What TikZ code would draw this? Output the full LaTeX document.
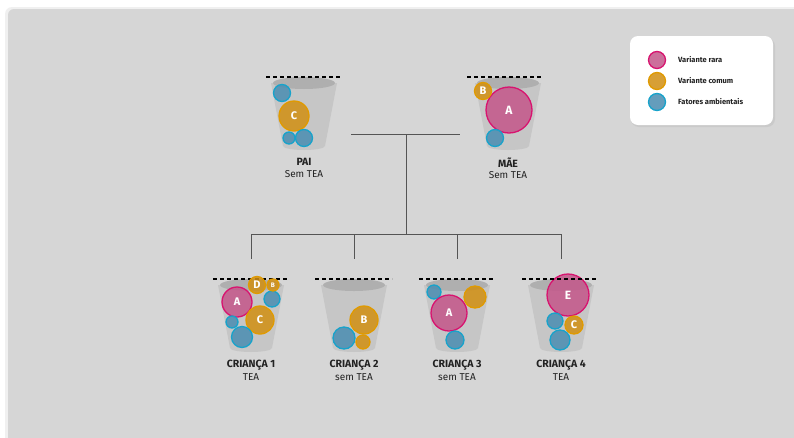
\documentclass[tikz,border=0pt]{standalone}
\usepackage{fontspec}
\setmainfont{Fira Sans}
\usetikzlibrary{calc}

\definecolor{panel}{HTML}{D6D6D6}
\definecolor{bodygrey}{HTML}{C6C6C6}
\definecolor{topgrey}{HTML}{AFAFAF}
\definecolor{rarefill}{HTML}{C4568A}
\definecolor{raredraw}{HTML}{D8136F}
\definecolor{comfill}{HTML}{D18F12}
\definecolor{comdraw}{HTML}{E09A00}
\definecolor{envfill}{HTML}{4A8DB1}
\definecolor{envdraw}{HTML}{17A3CB}
\definecolor{ink}{HTML}{222222}
\definecolor{linegrey}{HTML}{555555}

\tikzset{
  blob/.style={circle, inner sep=0pt, line width=1.3pt, fill opacity=0.85,
    text opacity=1, text=white, font=\bfseries\fontsize{11}{11}\selectfont},
  rare/.style={blob, draw=raredraw, fill=rarefill},
  common/.style={blob, draw=comdraw, fill=comfill},
  env/.style={blob, draw=envdraw, fill=envfill},
  who/.style={text=ink, font=\bfseries\fontsize{10.5}{10.5}\selectfont, inner sep=0pt},
  status/.style={text=ink, font=\fontsize{10}{10}\selectfont, inner sep=0pt},
  limit/.style={dashed, dash pattern=on 4pt off 3pt, line width=1.2pt, black},
  tree/.style={draw=linegrey, line width=0.8pt},
  keytext/.style={text=ink, font=\bfseries\fontsize{7.5}{7.5}\selectfont, inner sep=0pt, anchor=west},
}

% bucket: centre x, top y
\newcommand\drawbucket[2]{%
  \fill[bodygrey] (#1-33,#2) -- (#1-21,#2+63)
     arc[start angle=180, end angle=0, x radius=21, y radius=4] -- (#1+33,#2) -- cycle;
  \fill[topgrey] (#1,#2) ellipse[x radius=31, y radius=6];
}

\begin{document}
\begin{tikzpicture}[x=1pt,y=-1pt]
\useasboundingbox (0,0) rectangle (794,437);
\fill[white] (0,0) rectangle (794,437);
\begin{scope}
  \clip (0,0) rectangle (794,437);
  \fill[black!6] (5,7) [rounded corners=7pt] rectangle (820,460);
  \fill[panel] (8,9) [rounded corners=6pt] rectangle (820,460);
\end{scope}

% legend card
\fill[black!25, opacity=0.5, rounded corners=8pt] (631,38) rectangle (775,127);
\node[fill=white, rounded corners=8pt, minimum width=143pt, minimum height=89pt, inner sep=0pt]
  (legend) at (701.5,80.5) {};
\node[rare, minimum size=17pt] (krare) at (657,60) {};
\node[common, minimum size=17pt] (kcom) at (657,81) {};
\node[env, minimum size=17pt] (kenv) at (657,102) {};
\node[keytext] (lrare) at (678,60) {Variante rara};
\node[keytext] (lcom) at (678,81) {Variante comum};
\node[keytext] (lenv) at (678,102) {Fatores ambientais};

% ---------- parents ----------
\drawbucket{304}{83}
\draw[limit] (266,77) -- (341,77);
\node[env, minimum size=17pt] (p1) at (282,93) {};
\node[common, minimum size=30pt] (pC) at (294,116) {C};
\node[env, minimum size=12pt] (p2) at (289,138) {};
\node[env, minimum size=17pt] (p3) at (304,138) {};
\node[who] (pai) at (304,162) {PAI};
\node[status] (paist) at (304,174) {Sem TEA};

\drawbucket{508}{83}
\draw[limit] (467,77) -- (543,77);
\node[rare, minimum size=46pt, font=\bfseries\fontsize{12}{12}\selectfont] (mA) at (509,110) {A};
\node[common, minimum size=17pt] (mB) at (483,91) {B};
\node[env, minimum size=17pt] (m1) at (495,138) {};
\node[who] (mae) at (508,163) {MÃE};
\node[status] (maest) at (508,175) {Sem TEA};

% ---------- family tree lines ----------
\coordinate (jL) at (351,134);
\coordinate (jR) at (460,134);
\coordinate (jM) at (406,134);
\coordinate (jB) at (406,234);
\coordinate (b1) at (251,234);
\coordinate (b2) at (354,234);
\coordinate (b3) at (457,234);
\coordinate (b4) at (561,234);
\coordinate (d1) at (251,259);
\coordinate (d2) at (354,259);
\coordinate (d3) at (457,259);
\coordinate (d4) at (561,259);
\draw[tree] (jL) -- (jR);
\draw[tree] (jM) -- (jB);
\draw[tree] (b1) -- (b4);
\draw[tree] (b1) -- (d1);
\draw[tree] (b2) -- (d2);
\draw[tree] (b3) -- (d3);
\draw[tree] (b4) -- (d4);

% ---------- child 1 ----------
\drawbucket{251}{285}
\draw[limit] (213,279) -- (289,279);
\node[rare, minimum size=30pt] (c1A) at (237,302) {A};
\node[env, minimum size=16pt] (c1e1) at (272,299) {};
\node[common, minimum size=28pt] (c1C) at (260,320) {C};
\node[env, minimum size=12pt] (c1e2) at (232,322) {};
\node[env, minimum size=21pt] (c1e3) at (242,337) {};
\node[common, minimum size=17pt] (c1D) at (257,285) {D};
\node[common, minimum size=12pt, font=\bfseries\fontsize{6.5}{6.5}\selectfont] (c1B) at (273,285) {B};
\node[who] (k1) at (251,365) {CRIANÇA 1};
\node[status] (k1st) at (251,377) {TEA};

% ---------- child 2 ----------
\drawbucket{354}{285}
\draw[limit] (315,279) -- (392,279);
\node[common, minimum size=28pt] (c2B) at (364,320) {B};
\node[env, minimum size=22pt] (c2e) at (344,338) {};
\node[common, minimum size=14pt] (c2s) at (363,342) {};
\node[who] (k2) at (354,365) {CRIANÇA 2};
\node[status] (k2st) at (354,377) {sem TEA};

% ---------- child 3 ----------
\drawbucket{457}{285}
\draw[limit] (419,279) -- (495,279);
\node[env, minimum size=14pt] (c3e1) at (434,292) {};
\node[common, minimum size=22pt] (c3c) at (475,297) {};
\node[rare, minimum size=36pt] (c3A) at (449,313) {A};
\node[env, minimum size=18pt] (c3e2) at (455,340) {};
\node[who] (k3) at (457,365) {CRIANÇA 3};
\node[status] (k3st) at (457,377) {sem TEA};

% ---------- child 4 ----------
\drawbucket{561}{285}
\node[rare, minimum size=42pt, font=\bfseries\fontsize{12}{12}\selectfont] (c4E) at (568,295) {E};
\draw[limit] (522,279) -- (598,279);
\node[env, minimum size=16pt] (c4e1) at (555,321) {};
\node[common, minimum size=18pt] (c4C) at (574,325) {C};
\node[env, minimum size=20pt] (c4e2) at (560,340) {};
\node[who] (k4) at (561,365) {CRIANÇA 4};
\node[status] (k4st) at (561,377) {TEA};
\end{tikzpicture}
\end{document}
